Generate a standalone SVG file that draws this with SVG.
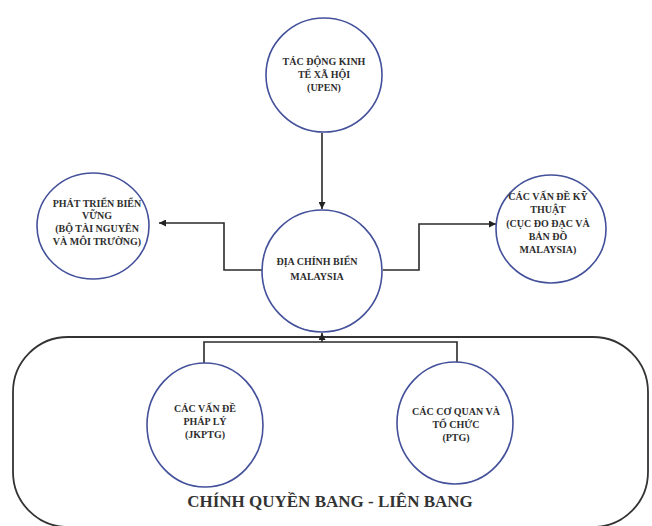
<svg xmlns="http://www.w3.org/2000/svg" width="652" height="526" viewBox="0 0 652 526">
<defs>
<marker id="arr" viewBox="0 0 10 10" refX="10" refY="5" markerWidth="7" markerHeight="7" markerUnits="userSpaceOnUse" orient="auto">
<path d="M0,0 L10,5 L0,10 z" fill="#222"/>
</marker>
<style>
.node{fill:#fff;stroke:#43509a;stroke-width:1.6}
.t{font-family:"Liberation Serif","Times New Roman",serif;font-weight:bold;font-size:10px;fill:#2e2e2e;text-anchor:middle}
.c{fill:none;stroke:#2a2a2a;stroke-width:1.6}
.frame{fill:none;stroke:#333;stroke-width:1.8}
.big{font-family:"Liberation Serif","Times New Roman",serif;font-weight:bold;font-size:17px;fill:#333;text-anchor:middle}
</style>
</defs>
<rect width="652" height="526" fill="#fff"/>
<g id="group-frame">
<rect class="frame" x="13" y="337" width="635" height="190" rx="55" ry="55"/>
<text class="big" x="330" y="507">CHÍNH QUYỀN BANG - LIÊN BANG</text>
</g>
<g id="connectors">
<path class="c" d="M322,133 V209" marker-end="url(#arr)"/>
<path class="c" d="M262,270 H224 V223 H159" marker-end="url(#arr)"/>
<path class="c" d="M383,270 H419 V224 H496" marker-end="url(#arr)"/>
<path class="c" d="M204,363 V342 H457 V362"/>
<path class="c" d="M322,342 V333" marker-end="url(#arr)"/>
</g>
<g id="node-upen">
<ellipse class="node" cx="324" cy="75" rx="58" ry="57"/>
<text class="t" x="324" y="65">TÁC ĐỘNG KINH</text>
<text class="t" x="324" y="78">TẾ XÃ HỘI</text>
<text class="t" x="324" y="91">(UPEN)</text>
</g>
<g id="node-sustainable">
<ellipse class="node" cx="93" cy="226" rx="56" ry="53"/>
<text class="t" x="97" y="207">PHÁT TRIỂN BIỂN</text>
<text class="t" x="97" y="219">VỮNG</text>
<text class="t" x="97" y="232">(BỘ TÀI NGUYÊN</text>
<text class="t" x="97" y="245">VÀ MÔI TRƯỜNG)</text>
</g>
<g id="node-technical">
<ellipse class="node" cx="551" cy="229" rx="55" ry="54"/>
<text class="t" x="548" y="200">CÁC VẤN ĐỀ KỸ</text>
<text class="t" x="548" y="213">THUẬT</text>
<text class="t" x="548" y="227">(CỤC ĐO ĐẠC VÀ</text>
<text class="t" x="548" y="240">BẢN ĐỒ</text>
<text class="t" x="548" y="253">MALAYSIA)</text>
</g>
<g id="node-center">
<ellipse class="node" cx="322" cy="271" rx="60" ry="61"/>
<text class="t" x="317" y="265">ĐỊA CHÍNH BIỂN</text>
<text class="t" x="317" y="280">MALAYSIA</text>
</g>
<g id="node-legal">
<ellipse class="node" cx="205" cy="425" rx="58" ry="62"/>
<text class="t" x="205" y="412">CÁC VẤN ĐỀ</text>
<text class="t" x="205" y="425">PHÁP LÝ</text>
<text class="t" x="205" y="438">(JKPTG)</text>
</g>
<g id="node-agencies">
<ellipse class="node" cx="455" cy="423" rx="58" ry="61"/>
<text class="t" x="456" y="415">CÁC CƠ QUAN VÀ</text>
<text class="t" x="456" y="428">TỔ CHỨC</text>
<text class="t" x="456" y="441">(PTG)</text>
</g>
</svg>
